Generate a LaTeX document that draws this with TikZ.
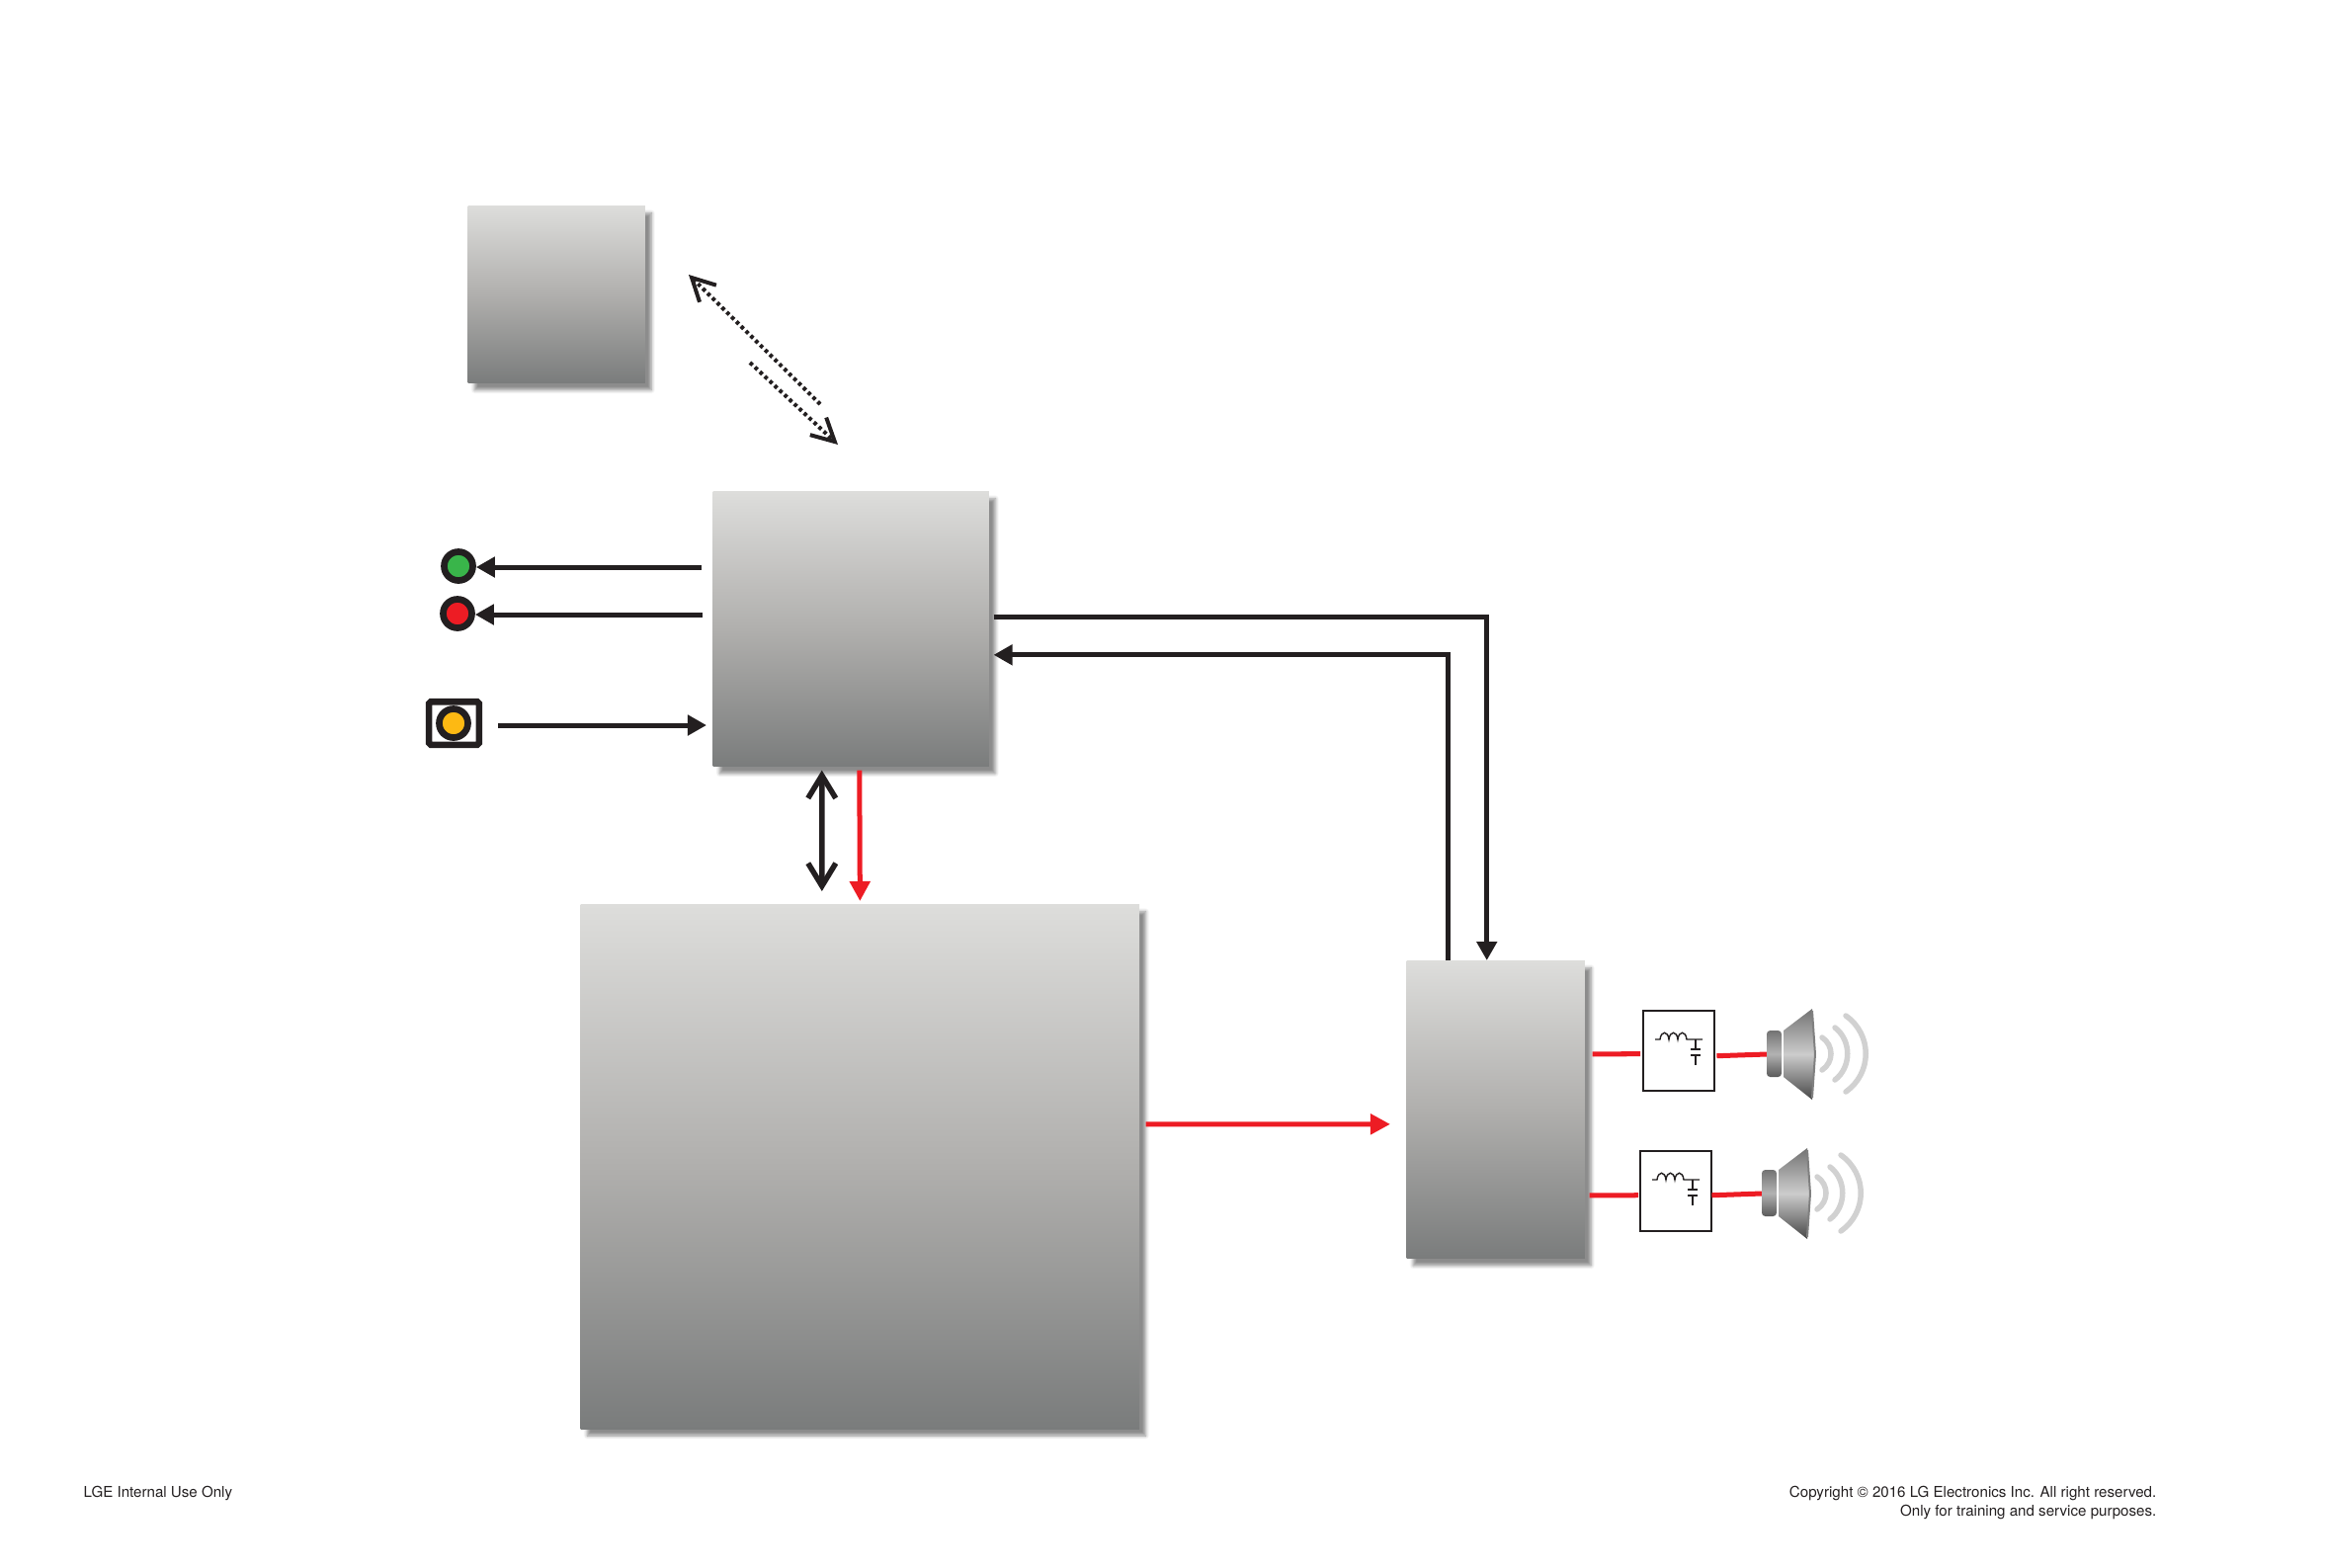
\documentclass[tikz,border=0pt]{standalone}
\usepackage{fontspec}
\setmainfont{TeX Gyre Heros}
\usetikzlibrary{arrows.meta,positioning,shadows.blur}
\definecolor{inkblack}{HTML}{231F20}
\definecolor{sigred}{HTML}{ED1C24}
\definecolor{ledgreen}{HTML}{39B54A}
\definecolor{ledyellow}{HTML}{FDB913}
\definecolor{boxtop}{HTML}{DDDDDB}
\definecolor{boxmid}{HTML}{B0AFAD}
\definecolor{boxbot}{HTML}{7A7C7C}

\begin{document}
\begin{tikzpicture}[
  x=0.01cm, y=-0.01cm,
  font=\fontsize{4.3}{5.4}\selectfont,
  block/.style={rectangle, anchor=north west, inner sep=0pt, top color=boxtop, bottom color=boxbot,
                middle color=boxmid, blur shadow={shadow xshift=0.065cm, shadow yshift=-0.07cm,
                shadow opacity=45, shadow blur radius=0.035cm, shadow blur steps=5}},
  led/.style={circle, draw=inkblack, line width=0.067cm, inner sep=0pt, minimum size=0.29cm},
  keybox/.style={rectangle, draw=inkblack, line width=0.065cm, rounded corners=0.5pt, fill=white,
                 inner sep=0pt, minimum width=0.505cm, minimum height=0.435cm},
  filterbox/.style={rectangle, anchor=north west, draw=inkblack, line width=0.024cm, fill=white,
                    inner sep=0pt, minimum width=0.72cm, minimum height=0.81cm},
  wire/.style={draw=inkblack, line width=0.05cm, arrows={-Triangle[length=0.19cm, width=0.2cm]}, line join=miter},
  redwire/.style={draw=sigred, line width=0.05cm},
  redflow/.style={redwire, arrows={-Triangle[length=0.2cm, width=0.2cm]}},
  bus/.style={draw=inkblack, line width=0.055cm, line cap=round,
              arrows={Straight Barb[length=0.23cm, width=0.28cm]-Straight Barb[length=0.23cm, width=0.28cm]}},
  radio/.style={draw=inkblack, line width=0.04cm, dash pattern=on 0.036cm off 0.032cm},
  wave/.style={draw=black!18, line width=0.055cm, line cap=round},
  lcsym/.pic={
    \draw[inkblack, line width=0.014cm] (13,30) -- (18,30) .. controls (19,21) and (26,21) .. (27,30)
      .. controls (28,21) and (35,21) .. (36,30) .. controls (37,21) and (44,21) .. (45,30) -- (61,30);
    \draw[inkblack, line width=0.014cm] (54,30) -- (54,40) (54,46) -- (54,56);
    \draw[inkblack, line width=0.02cm] (49,40) -- (59,40) (49,46) -- (59,46);
  },
  speaker/.pic={
    \path[top color=black!55, bottom color=black!65, middle color=black!30, rounded corners=1pt]
      (0,-24) -- (15,-24) -- (15,23) -- (0,23) -- cycle;
    \path[top color=black!55, bottom color=black!72, middle color=black!20]
      (17,-24) -- (46,-46) -- (49,0) -- (46,46) -- (17,23) -- cycle;
    \draw[black!50, line width=0.02cm] (46,-44) -- (49,0) -- (46,44);
    \draw[wave] (56,-17) .. controls (68,-9) and (68,8) .. (56,16);
    \draw[wave] (69,-27) .. controls (86,-14) and (86,13) .. (69,26);
    \draw[wave] (80,-39) .. controls (107,-20) and (107,19) .. (80,38);
  },
]
\useasboundingbox (0,0) rectangle (2353,1587);

% --- blocks ---
\node[block, minimum width=1.79cm, minimum height=1.79cm] (topbox) at (473,208) {};
\node[block, minimum width=2.79cm, minimum height=2.78cm] (ctrlbox) at (721,497) {};
\node[block, minimum width=5.65cm, minimum height=5.30cm] (mainbox) at (587,915) {};
\node[block, minimum width=1.80cm, minimum height=3.01cm] (ampbox) at (1423,972) {};

% --- front panel ---
\node[led, fill=ledgreen] (greenled) at (464,573) {};
\node[led, fill=sigred] (redled) at (463,621) {};
\node[keybox] (keysw) at (459.5,732) {};
\node[led, fill=ledyellow] (yellowled) at (459,732) {};

% --- output stage ---
\node[filterbox] (filter1) at (1662,1022) {};
\node[filterbox] (filter2) at (1659,1164) {};
\pic at (filter1.north west) {lcsym};
\pic at (filter2.north west) {lcsym};
\coordinate (spk1) at (1788,1067);
\coordinate (spk2) at (1783,1208);

% --- radio link ---
\coordinate (rf1) at (697,278);
\coordinate (rf2) at (830,409);
\coordinate (rf3) at (759,367);
\coordinate (rf4) at (848,450);
\draw[radio, arrows={Straight Barb[length=0.23cm, width=0.24cm, line width=0.04cm]-}] (rf1) -- (rf2);
\draw[radio, arrows={-Straight Barb[length=0.23cm, width=0.24cm, line width=0.04cm]}] (rf3) -- (rf4);

% --- control lines ---
\draw[wire, shorten <=0.11cm] ([yshift=-0.01cm]ctrlbox.west |- greenled) -- ([yshift=-0.01cm]greenled.east);
\draw[wire, shorten <=0.10cm] ([yshift=-0.01cm]ctrlbox.west |- redled) -- ([yshift=-0.01cm]redled.east);
\draw[wire, shorten <=0.16cm, shorten >=0.06cm] ([yshift=-0.02cm]keysw.east) -- ([yshift=-0.02cm]keysw.east -| ctrlbox.west);
\draw[wire, shorten <=0.04cm] ([yshift=0.12cm]ctrlbox.east) -| ([xshift=-0.09cm]ampbox.north);
\draw[wire, shorten >=0.04cm] ([xshift=-0.48cm]ampbox.north) |- ([yshift=-0.26cm]ctrlbox.east);
\draw[bus, shorten <=0.03cm, shorten >=0.13cm] ([xshift=-0.295cm]ctrlbox.south) -- ([xshift=-0.385cm]mainbox.north);

% --- signal lines ---
\draw[redflow, shorten <=0.03cm, shorten >=0.03cm] ([xshift=0.085cm]ctrlbox.south) -- (mainbox.north);
\draw[redflow, shorten <=0.06cm, shorten >=0.16cm] ([yshift=0.43cm]mainbox.east) -- ([yshift=-0.145cm]ampbox.west);
\draw[redwire, shorten <=0.07cm, shorten >=0.02cm] ([yshift=0.565cm]ampbox.east) -- ([yshift=-0.03cm]filter1.west);
\draw[redwire, shorten <=0.04cm, shorten >=0.01cm] ([yshift=-0.865cm]ampbox.east) -- ([yshift=-0.04cm]filter2.west);
\draw[redwire, shorten <=0.01cm] ([yshift=-0.05cm]filter1.east) -- (spk1);
\draw[redwire, shorten <=-0.01cm] ([yshift=-0.04cm]filter2.east) -- (spk2);

\pic at (spk1) {speaker};
\pic at (spk2) {speaker};

% --- footer ---
\node[anchor=base west, inner sep=0pt, text=inkblack] (footl) at (84,1515) {LGE Internal Use Only};
\node[anchor=base east, inner sep=0pt, text=inkblack] (footr1) at (2183,1515) {Copyright © 2016 LG Electronics Inc. All right reserved.};
\node[anchor=base east, inner sep=0pt, text=inkblack] (footr2) at (2183,1534) {Only for training and service purposes.};

\end{tikzpicture}
\end{document}
